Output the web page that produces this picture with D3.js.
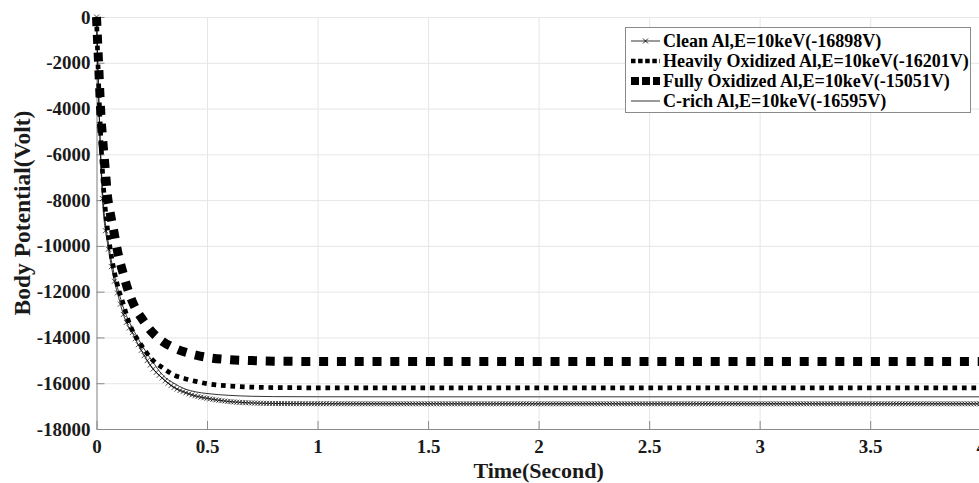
<!DOCTYPE html>
<html>
<head>
<meta charset="utf-8">
<script src="https://cdn.jsdelivr.net/npm/d3@7"></script>
<style>
body { margin: 0; background: #fff; }
text { font-family: "Liberation Serif", "Times New Roman", serif; font-weight: bold; }
</style>
</head>
<body>
<svg id="mainSVG" width="979" height="483"></svg>
<script>
// time samples (s)
var times = [0, 0.01, 0.02, 0.03, 0.04, 0.05, 0.06, 0.08, 0.1, 0.12, 0.14, 0.16, 0.18, 0.2,
  0.25, 0.3, 0.35, 0.4, 0.45, 0.5, 0.6, 0.7, 0.8, 1.0, 1.5, 2, 2.5, 3, 3.5, 4, 4.2];

// body potential (V)
var cleanAl = [0, -3600, -6500, -8400, -9300, -9900, -10500, -11500, -12250, -12950, -13450, -13750, -14150, -14520,
  -15300, -15800, -16180, -16400, -16560, -16660, -16800, -16860, -16885, -16895, -16898, -16898, -16898, -16898, -16898, -16898, -16898];
var heavyOx = [0, -3000, -5400, -7200, -8400, -9300, -10000, -11100, -11900, -12500, -13150, -13650, -14000, -14300,
  -14950, -15330, -15640, -15800, -15920, -16020, -16120, -16170, -16190, -16200, -16201, -16201, -16201, -16201, -16201, -16201, -16201];
var fullyOx = [0, -2150, -4300, -5600, -6700, -7850, -8450, -9450, -10450, -11180, -11850, -12380, -12800, -13100,
  -13750, -14180, -14450, -14640, -14770, -14870, -14970, -15010, -15035, -15048, -15051, -15051, -15051, -15051, -15051, -15051, -15051];
var cRich = [0, -3400, -6200, -8000, -9000, -9650, -10250, -11250, -12000, -12650, -13150, -13550, -13900, -14250,
  -15000, -15650, -16000, -16250, -16380, -16450, -16530, -16570, -16585, -16592, -16595, -16595, -16595, -16595, -16595, -16595, -16595];

var seriesNames = ["Clean Al,E=10keV(-16898V)", "Heavily Oxidized Al,E=10keV(-16201V)",
  "Fully Oxidized Al,E=10keV(-15051V)", "C-rich Al,E=10keV(-16595V)"];

var xTicks = [0, 0.5, 1, 1.5, 2, 2.5, 3, 3.5, 4];
var yTicks = [0, -2000, -4000, -6000, -8000, -10000, -12000, -14000, -16000, -18000];

var svg = d3.select("#mainSVG");

var pLeft = 96.5, pTop = 17, pRight = 980.7, pBottom = 429;

var x = d3.scaleLinear().domain([0, 4]).range([pLeft, pRight]);
var y = d3.scaleLinear().domain([-18000, 0]).range([pBottom, pTop]);

//grid
svg.append("g")
  .attr("transform", "translate(0," + pBottom + ")")
  .call(d3.axisBottom(x).tickValues(xTicks).tickSize(-(pBottom - pTop)).tickFormat(""))
  .call(function(g) { g.select(".domain").remove(); })
  .selectAll("line").attr("stroke", "#e6e6e6");

svg.append("g")
  .attr("transform", "translate(" + pLeft + ",0)")
  .call(d3.axisLeft(y).tickValues(yTicks).tickSize(-(pRight - pLeft)).tickFormat(""))
  .call(function(g) { g.select(".domain").remove(); })
  .selectAll("line").attr("stroke", "#e6e6e6");

//axes
var xAxis = svg.append("g")
  .attr("transform", "translate(0," + pBottom + ")")
  .call(d3.axisBottom(x).tickValues(xTicks).tickSizeInner(-8).tickSizeOuter(0).tickPadding(11)
    .tickFormat(function(d) { return d; }));
xAxis.select(".domain").attr("stroke", "#8a8a8a");
xAxis.selectAll("line").attr("stroke", "#8a8a8a");
xAxis.selectAll("text").attr("font-size", 19).attr("fill", "#1a1a1a")
  .style("font-family", "'Liberation Serif', serif").style("font-weight", "bold");

var yAxis = svg.append("g")
  .attr("transform", "translate(" + pLeft + ",0)")
  .call(d3.axisLeft(y).tickValues(yTicks).tickSizeInner(-8).tickSizeOuter(0).tickPadding(6)
    .tickFormat(function(d) { return d; }));
yAxis.select(".domain").attr("stroke", "#8a8a8a");
yAxis.selectAll("line").attr("stroke", "#8a8a8a");
yAxis.selectAll("text").attr("font-size", 19).attr("fill", "#1a1a1a")
  .style("font-family", "'Liberation Serif', serif").style("font-weight", "bold");

svg.append("text")
  .attr("x", (x(0) + x(4)) / 2)
  .attr("y", 478)
  .attr("text-anchor", "middle")
  .attr("font-size", 22)
  .attr("fill", "#1a1a1a")
  .text("Time(Second)");

svg.append("text")
  .attr("transform", "translate(30,213) rotate(-90)")
  .attr("text-anchor", "middle")
  .attr("font-size", 23.5)
  .attr("fill", "#1a1a1a")
  .text("Body Potential(Volt)");

//lines
var line = d3.line()
  .x(function(d, i) { return x(times[i]); })
  .y(function(d) { return y(d); })
  .curve(d3.curveMonotoneX);

var cleanPath = svg.append("path")
  .datum(cleanAl)
  .attr("d", line)
  .attr("fill", "none")
  .attr("stroke", "#000")
  .attr("stroke-width", 0.8);

//x markers along clean line
var node = cleanPath.node();
var total = node.getTotalLength();
function yAtX(px) {
  var lo = 0, hi = total;
  for (var k = 0; k < 30; k++) {
    var mid = (lo + hi) / 2;
    if (node.getPointAtLength(mid).x < px) lo = mid; else hi = mid;
  }
  return node.getPointAtLength((lo + hi) / 2).y;
}
var markerTimes = d3.range(0, 4.05, 0.0135);
var mk = svg.append("g").attr("stroke", "#000").attr("stroke-width", 0.7);
markerTimes.forEach(function(t) {
  var px = x(t), py = yAtX(px);
  mk.append("path").attr("d", "M" + (px - 2.5) + "," + (py - 2.5) + "L" + (px + 2.5) + "," + (py + 2.5)
    + "M" + (px - 2.5) + "," + (py + 2.5) + "L" + (px + 2.5) + "," + (py - 2.5));
});

svg.append("path")
  .datum(heavyOx)
  .attr("d", line)
  .attr("fill", "none")
  .attr("stroke", "#000")
  .attr("stroke-width", 4.7)
  .attr("stroke-dasharray", "4.7,4.8");

svg.append("path")
  .datum(fullyOx)
  .attr("d", line)
  .attr("fill", "none")
  .attr("stroke", "#000")
  .attr("stroke-width", 9)
  .attr("stroke-dasharray", "9,8.8");

svg.append("path")
  .datum(cRich)
  .attr("d", line)
  .attr("fill", "none")
  .attr("stroke", "#000")
  .attr("stroke-width", 0.8);

//legend
var leg = svg.append("g");
leg.append("rect")
  .attr("x", 625.5).attr("y", 27.5)
  .attr("width", 345).attr("height", 85)
  .attr("fill", "#fff")
  .attr("stroke", "#8a8a8a")
  .attr("stroke-width", 1);

var rowY = [41, 61, 81, 101];
var styles = [
  { w: 0.8, dash: null },
  { w: 4.5, dash: "4.5,2.6" },
  { w: 8, dash: "8,3" },
  { w: 0.8, dash: null }
];
seriesNames.forEach(function(name, i) {
  var l = leg.append("line")
    .attr("x1", 631).attr("x2", 660)
    .attr("y1", rowY[i]).attr("y2", rowY[i])
    .attr("stroke", "#000")
    .attr("stroke-width", styles[i].w);
  if (styles[i].dash) l.attr("stroke-dasharray", styles[i].dash);
  if (i == 0) {
    leg.append("path")
      .attr("d", "M643,38.5L648,43.5M643,43.5L648,38.5")
      .attr("stroke", "#000").attr("stroke-width", 0.8);
  }
  leg.append("text")
    .attr("x", 663)
    .attr("y", rowY[i] + 6)
    .attr("font-size", 18)
    .attr("fill", "#000")
    .text(name);
});
</script>
</body>
</html>
